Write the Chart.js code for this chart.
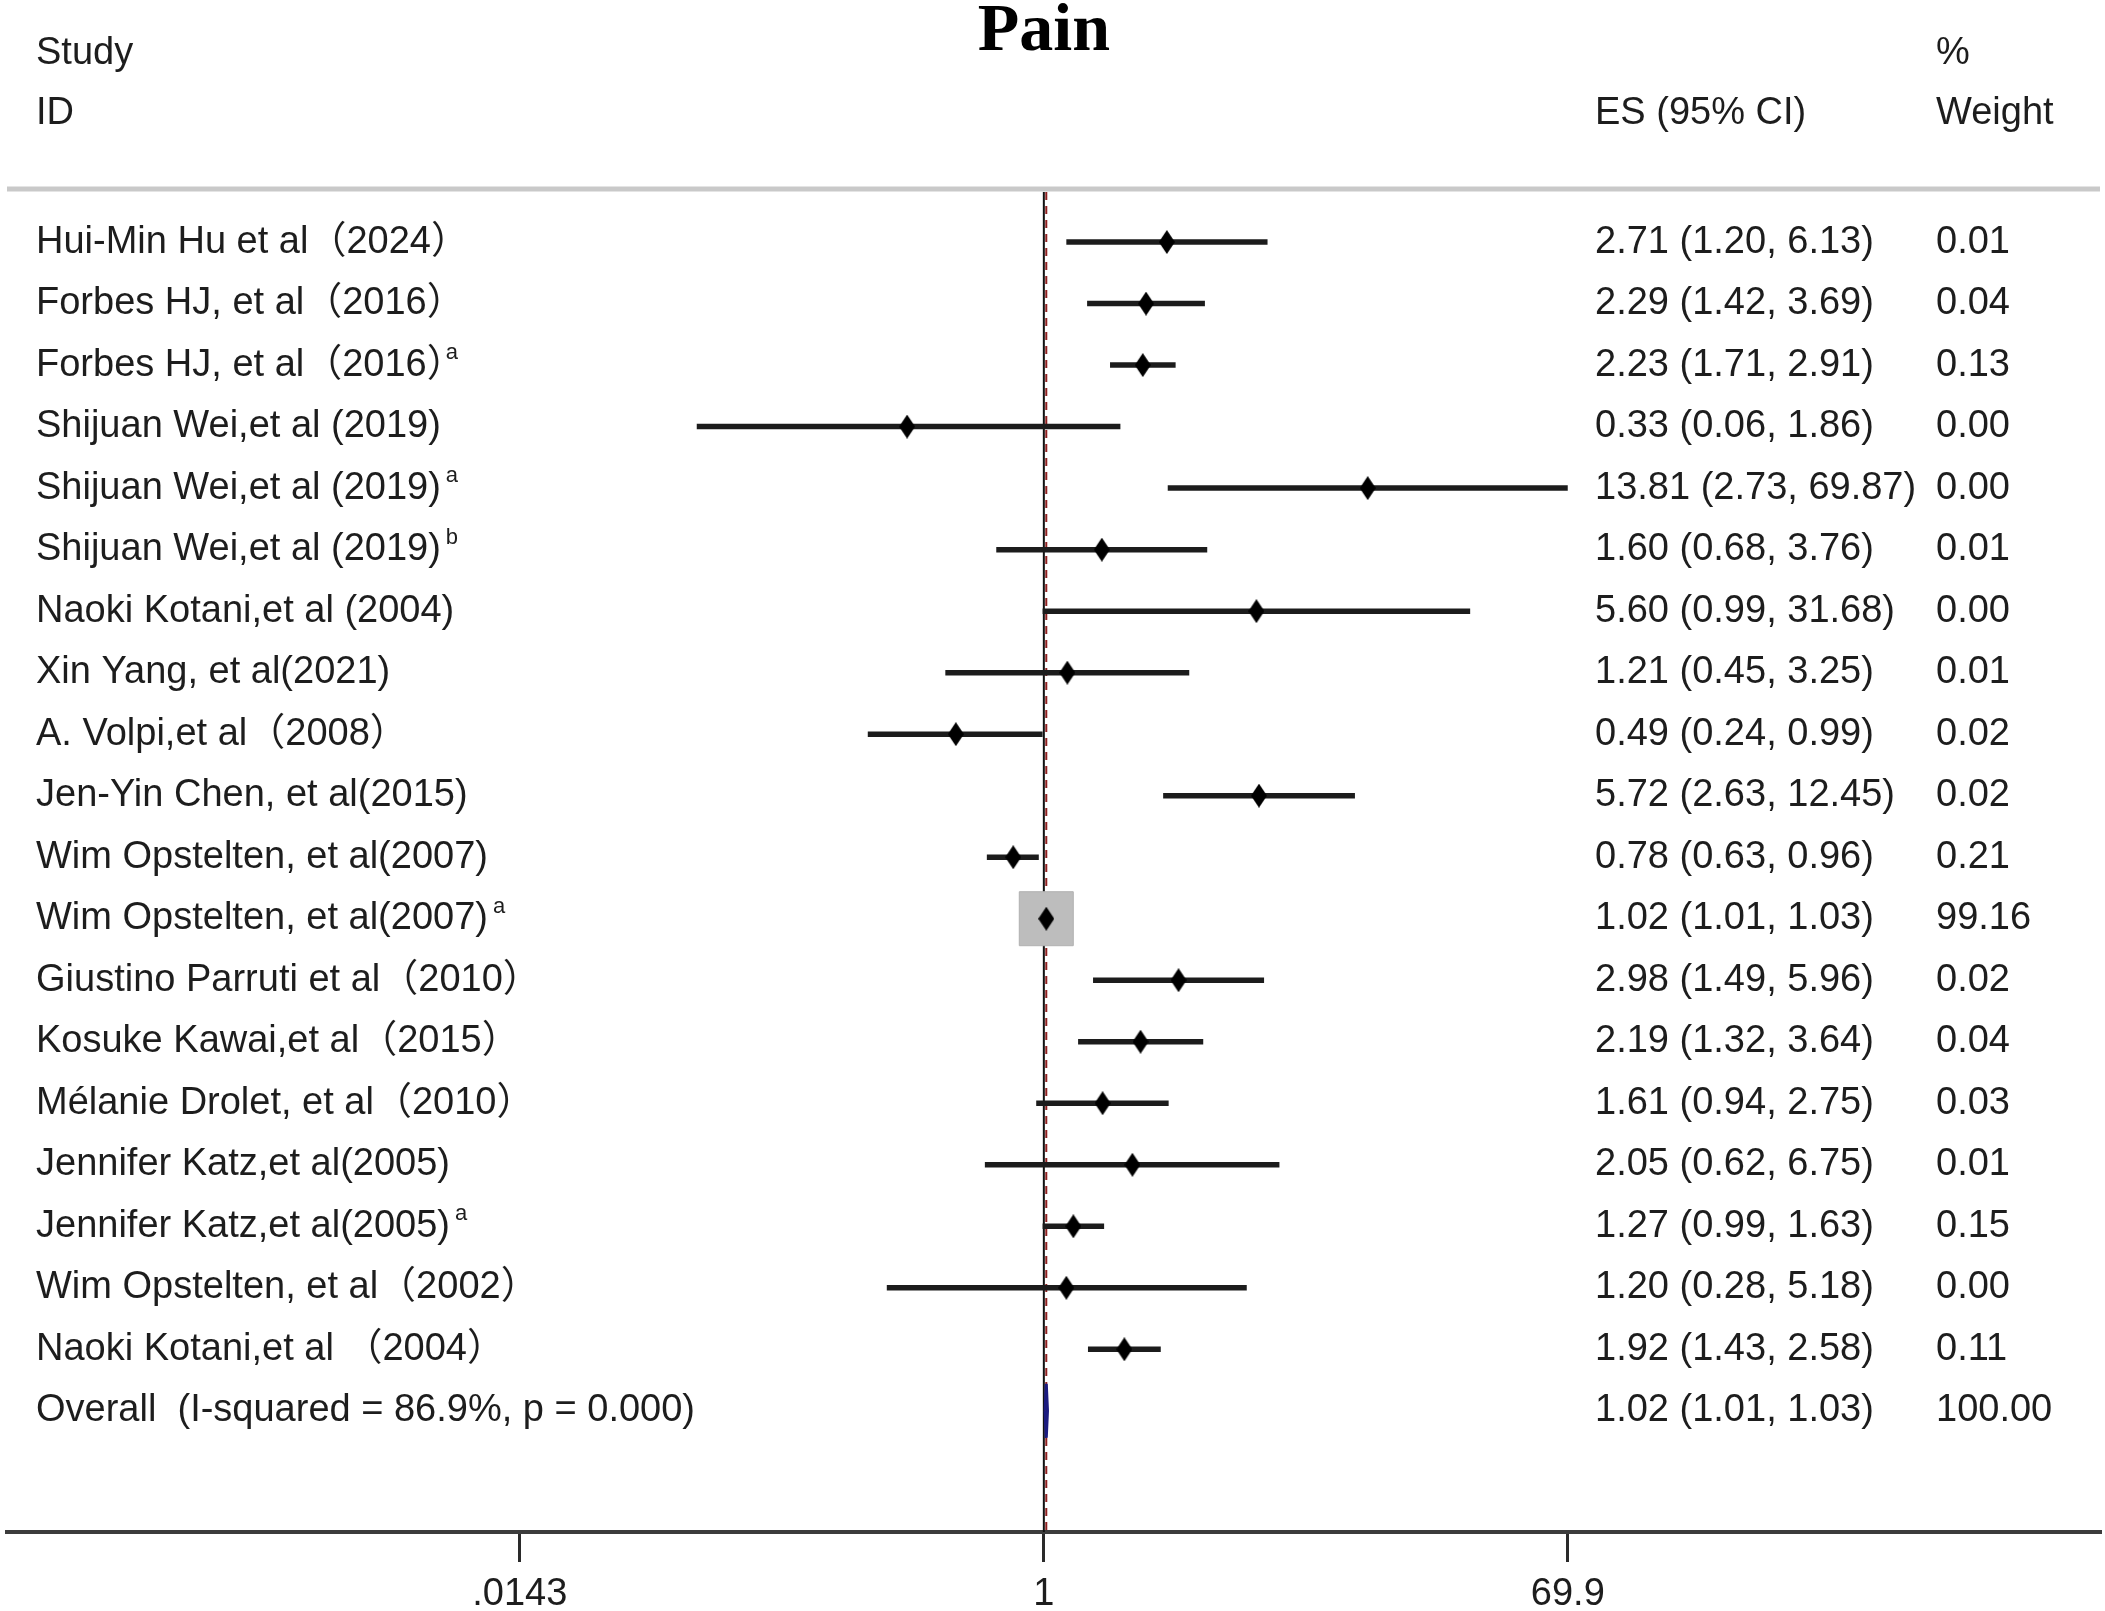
<!DOCTYPE html>
<html>
<head>
<meta charset="utf-8">
<script src="https://cdn.jsdelivr.net/npm/chart.js@4.4.1/dist/chart.umd.min.js"></script>
<style>
  html, body { margin: 0; padding: 0; background: #fff; }
  #wrap { width: 2105px; height: 1611px; }
</style>
</head>
<body>
<div id="wrap"><canvas id="forest" width="2105" height="1611"></canvas></div>
<script>
// study rows, top to bottom
const studies = [
  'Hui-Min Hu et al\uFF082024\uFF09',
  'Forbes HJ, et al\uFF082016\uFF09',
  'Forbes HJ, et al\uFF082016\uFF09',
  'Shijuan Wei,et al (2019)',
  'Shijuan Wei,et al (2019)',
  'Shijuan Wei,et al (2019)',
  'Naoki Kotani,et al (2004)',
  'Xin Yang, et al(2021)',
  'A. Volpi,et al\uFF082008\uFF09',
  'Jen-Yin Chen, et al(2015)',
  'Wim Opstelten, et al(2007)',
  'Wim Opstelten, et al(2007)',
  'Giustino Parruti et al\uFF082010\uFF09',
  'Kosuke Kawai,et al\uFF082015\uFF09',
  'M\u00e9lanie Drolet, et al\uFF082010\uFF09',
  'Jennifer Katz,et al(2005)',
  'Jennifer Katz,et al(2005)',
  'Wim Opstelten, et al\uFF082002\uFF09',
  'Naoki Kotani,et al \uFF082004\uFF09'
];
const marks = ['', '', 'a', '', 'a', 'b', '', '', '', '', '', 'a', '', '', '', '', 'a', '', ''];
const es     = [2.71, 2.29, 2.23, 0.33, 13.81, 1.60, 5.60, 1.21, 0.49, 5.72, 0.78, 1.02, 2.98, 2.19, 1.61, 2.05, 1.27, 1.20, 1.92];
const ciLow  = [1.20, 1.42, 1.71, 0.06, 2.73, 0.68, 0.99, 0.45, 0.24, 2.63, 0.63, 1.01, 1.49, 1.32, 0.94, 0.62, 0.99, 0.28, 1.43];
const ciHigh = [6.13, 3.69, 2.91, 1.86, 69.87, 3.76, 31.68, 3.25, 0.99, 12.45, 0.96, 1.03, 5.96, 3.64, 2.75, 6.75, 1.63, 5.18, 2.58];
const weights = [0.01, 0.04, 0.13, 0.00, 0.00, 0.01, 0.00, 0.01, 0.02, 0.02, 0.21, 99.16, 0.02, 0.04, 0.03, 0.01, 0.15, 0.00, 0.11];

const overallLabel = 'Overall  (I-squared = 86.9%, p = 0.000)';
const overallEs = 1.02;
const overallLow = 1.01;
const overallHigh = 1.03;
const overallWeight = 100.00;

const nullValue = 1;
const tickValues = [0.0143, 1, 69.9];
const tickLabels = ['.0143', '1', '69.9'];

const overallRow = studies.length;
const textFont = '38px "Liberation Sans", Arial, "Noto Sans CJK SC", sans-serif';
const textColor = '#1d1d1d';

// tall diamond marker for point estimates
const diamond = document.createElement('canvas');
diamond.width = 16;
diamond.height = 24;
const dc = diamond.getContext('2d');
dc.fillStyle = '#000';
dc.beginPath();
dc.moveTo(8, 0); dc.lineTo(16, 12); dc.lineTo(8, 24); dc.lineTo(0, 12);
dc.closePath();
dc.fill();

const boxSide = w => 54 * Math.sqrt(w / 99.16);

const datasets = [];

datasets.push({
  data: es.map((v, i) => ({ x: v, y: i })),
  pointStyle: diamond,
  pointRadius: 8,
  order: 0
});

studies.forEach((s, i) => {
  datasets.push({
    data: [{ x: ciLow[i], y: i }, { x: ciHigh[i], y: i }],
    showLine: true,
    borderColor: '#1c1c1c',
    borderWidth: 5.5,
    pointRadius: 0,
    order: 1
  });
});

datasets.push({
  data: weights.map((w, i) => ({ x: es[i], y: i })),
  pointStyle: 'rect',
  pointRadius: weights.map(w => boxSide(w) / Math.SQRT2),
  backgroundColor: '#bdbdbd',
  borderColor: '#b2b2b2',
  borderWidth: 1,
  order: 2
});

// overall diamond
datasets.push({
  data: [
    { x: overallLow, y: overallRow },
    { x: overallEs, y: overallRow - 0.44 },
    { x: overallHigh, y: overallRow },
    { x: overallEs, y: overallRow + 0.44 },
    { x: overallLow, y: overallRow }
  ],
  showLine: true,
  borderColor: '#1b1b80',
  backgroundColor: '#1b1b80',
  borderWidth: 3,
  pointRadius: 0,
  order: 0
});

const forestText = {
  id: 'forestText',
  beforeDatasetsDraw(chart) {
    const { ctx, chartArea, scales: { x } } = chart;
    ctx.save();
    ctx.strokeStyle = '#c9c9c9';
    ctx.lineWidth = 5;
    ctx.beginPath();
    ctx.moveTo(chartArea.left, chartArea.top - 2);
    ctx.lineTo(chartArea.right, chartArea.top - 2);
    ctx.stroke();

    const xn = x.getPixelForValue(nullValue);
    ctx.strokeStyle = '#111';
    ctx.lineWidth = 2;
    ctx.beginPath();
    ctx.moveTo(xn, chartArea.top + 1);
    ctx.lineTo(xn, chartArea.bottom);
    ctx.stroke();

    const xo = x.getPixelForValue(overallEs);
    ctx.strokeStyle = '#8e1f1f';
    ctx.lineWidth = 2;
    ctx.setLineDash([8, 6]);
    ctx.beginPath();
    ctx.moveTo(xo, chartArea.top + 1);
    ctx.lineTo(xo, chartArea.bottom);
    ctx.stroke();
    ctx.restore();
  },
  afterDraw(chart) {
    const { ctx, scales: { x, y } } = chart;
    ctx.save();
    ctx.fillStyle = '#000';
    ctx.font = 'bold 68px "Liberation Serif", "Times New Roman", serif';
    ctx.textAlign = 'center';
    ctx.textBaseline = 'alphabetic';
    ctx.fillText('Pain', x.getPixelForValue(nullValue), 50);

    ctx.fillStyle = textColor;
    ctx.font = textFont;
    ctx.textAlign = 'left';
    ctx.textBaseline = 'middle';
    ctx.fillText('Study', 36, 54);
    ctx.fillText('ID', 36, 114);
    ctx.fillText('ES (95% CI)', 1595, 114);
    ctx.fillText('%', 1936, 54);
    ctx.fillText('Weight', 1936, 114);

    studies.forEach((s, i) => {
      const yy = y.getPixelForValue(i);
      ctx.font = textFont;
      ctx.fillText(s, 36, yy);
      if (marks[i]) {
        let w = ctx.measureText(s).width;
        // full-width closing paren leaves blank space on its right
        if (s.endsWith('\uFF09')) w -= 24;
        ctx.font = '22px "Liberation Sans", Arial, sans-serif';
        ctx.fillText(marks[i], 36 + w + 5, yy - 12);
        ctx.font = textFont;
      }
      ctx.fillText(es[i].toFixed(2) + ' (' + ciLow[i].toFixed(2) + ', ' + ciHigh[i].toFixed(2) + ')', 1595, yy);
      ctx.fillText(weights[i].toFixed(2), 1936, yy);
    });

    const yo = y.getPixelForValue(overallRow);
    ctx.fillText(overallLabel, 36, yo);
    ctx.fillText(overallEs.toFixed(2) + ' (' + overallLow.toFixed(2) + ', ' + overallHigh.toFixed(2) + ')', 1595, yo);
    ctx.fillText(overallWeight.toFixed(2), 1936, yo);
    ctx.restore();
  }
};

new Chart(document.getElementById('forest'), {
  type: 'scatter',
  data: { datasets },
  options: {
    responsive: false,
    animation: false,
    devicePixelRatio: 1,
    layout: { autoPadding: false, padding: { top: 191, left: 7, right: 5, bottom: 0 } },
    plugins: { legend: { display: false }, tooltip: { enabled: false } },
    scales: {
      x: {
        type: 'logarithmic',
        bounds: 'data',
        min: Math.pow(10, -3.65),
        max: Math.pow(10, 3.718),
        afterBuildTicks: scale => { scale.ticks = tickValues.map(v => ({ value: v })); },
        afterFit: scale => { scale.height = 79; },
        ticks: {
          autoSkip: false,
          maxRotation: 0,
          padding: 10,
          color: textColor,
          font: { family: '"Liberation Sans", Arial, sans-serif', size: 38 },
          callback: (v, i) => tickLabels[i]
        },
        grid: { drawOnChartArea: false, drawTicks: true, tickLength: 30, color: '#2a2a2a', lineWidth: 3 },
        border: { display: true, color: '#3c3c3c', width: 4 }
      },
      y: {
        type: 'linear',
        bounds: 'data',
        reverse: true,
        min: -0.83,
        max: 20.97,
        display: false
      }
    }
  },
  plugins: [forestText]
});
</script>
</body>
</html>
